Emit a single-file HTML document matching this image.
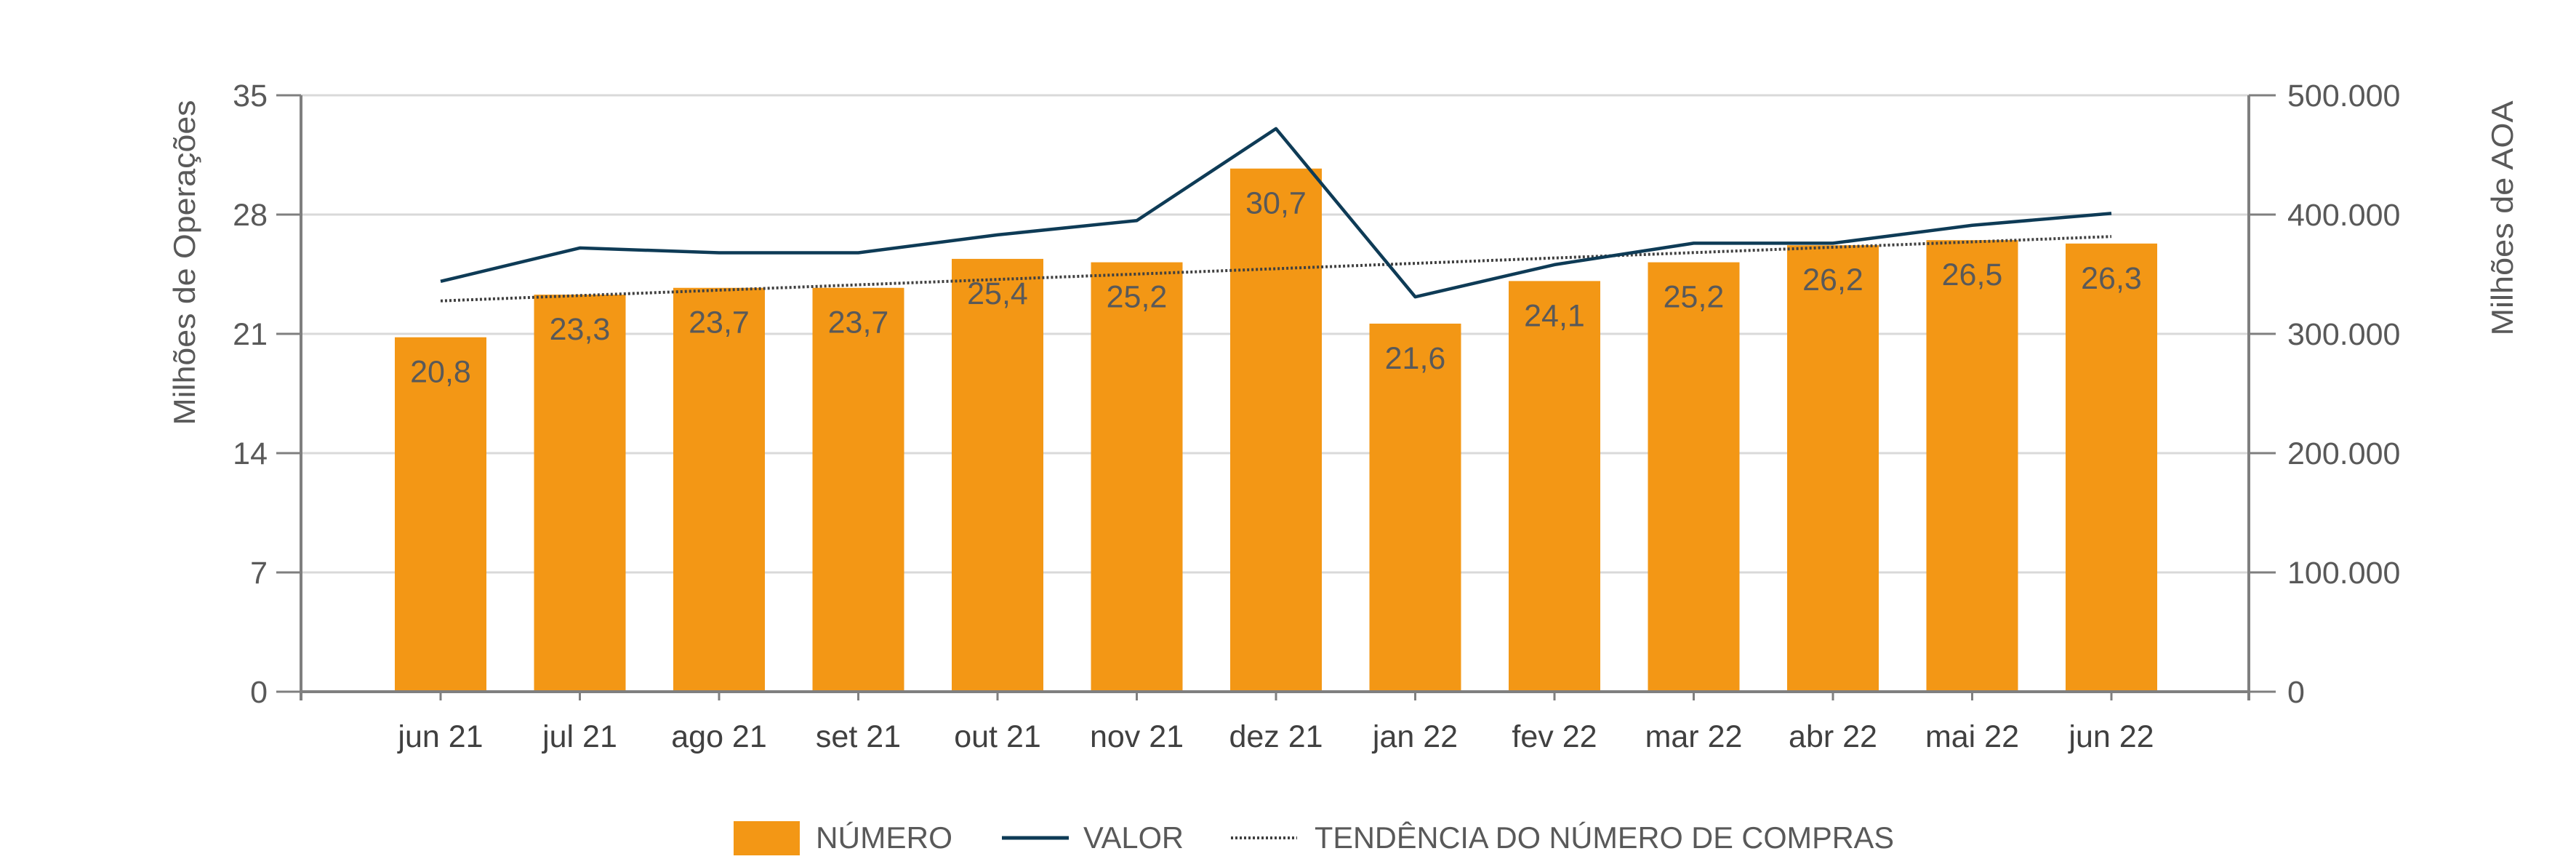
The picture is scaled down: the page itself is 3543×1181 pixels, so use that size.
<!DOCTYPE html>
<html><head><meta charset="utf-8"><style>
html,body{margin:0;padding:0;background:#fff;}
svg{display:block;font-family:"Liberation Sans",sans-serif;}
</style></head><body>
<svg id="chart" width="3543" height="1181" viewBox="0 0 3543 1181" xmlns="http://www.w3.org/2000/svg">
<g id="grid"></g>
<g id="bars"></g>
<g id="lines"></g>
<g id="axes"></g>
<text transform="translate(268,361) rotate(-90)" text-anchor="middle" font-size="42" fill="#595959" textLength="447" lengthAdjust="spacingAndGlyphs">Milhões de Operações</text>
<text transform="translate(3456,300) rotate(-90)" text-anchor="middle" font-size="42" fill="#595959" textLength="323" lengthAdjust="spacingAndGlyphs">Milhões de AOA</text>
<g>
<rect x="1009" y="1129" width="91" height="47" fill="#F39715"/>
<text x="1122" y="1166" font-size="42" fill="#595959" textLength="188" lengthAdjust="spacingAndGlyphs">NÚMERO</text>
<line x1="1378" y1="1152" x2="1470" y2="1152" stroke="#0E3B56" stroke-width="5"/>
<text x="1490" y="1166" font-size="42" fill="#595959" textLength="138" lengthAdjust="spacingAndGlyphs">VALOR</text>
<line x1="1693" y1="1152" x2="1784" y2="1152" stroke="#404040" stroke-width="4" stroke-dasharray="3,3"/>
<text x="1808" y="1166" font-size="42" fill="#595959" textLength="797" lengthAdjust="spacingAndGlyphs">TENDÊNCIA DO NÚMERO DE COMPRAS</text>
</g>
</svg>
<script>
const categories = ["jun 21","jul 21","ago 21","set 21","out 21","nov 21","dez 21","jan 22","fev 22","mar 22","abr 22","mai 22","jun 22"];
const numeroValues = [20.8,23.3,23.7,23.7,25.4,25.2,30.7,21.6,24.1,25.2,26.2,26.5,26.3];
const valorValues = [344000,372000,368000,368000,383000,395000,472000,331000,358000,376000,376000,391000,401000];
const leftTicks = [0,7,14,21,28,35];
const rightTicks = [0,100000,200000,300000,400000,500000];
const rightTickLabels = ["0","100.000","200.000","300.000","400.000","500.000"];

const NS="http://www.w3.org/2000/svg";
const X0=414, X1=3093, Y0=951, Y1=131;
const LMAX=35, RMAX=500000;
const yL=v=>Y0-(v/LMAX)*(Y0-Y1);
const yR=v=>Y0-(v/RMAX)*(Y0-Y1);
const step=191.5;
const xC=i=>606+i*step;
const BW=126;
function mk(tag,attrs,parent){const e=document.createElementNS(NS,tag);for(const k in attrs)e.setAttribute(k,attrs[k]);parent.appendChild(e);return e;}
const grid=document.getElementById('grid'),bars=document.getElementById('bars'),lines=document.getElementById('lines'),axes=document.getElementById('axes');

leftTicks.forEach((t,i)=>{
  if(t>0){const g=mk('line',{x1:X0,x2:X1,y1:yL(t),y2:yL(t),stroke:'#D9D9D9','stroke-width':3},grid);
  
  }
  const tk=mk('line',{x1:380,x2:X0,y1:yL(t),y2:yL(t),stroke:'#7F7F7F','stroke-width':3},axes);
  
  
  const lb=mk('text',{x:368,y:yL(t)+15,'text-anchor':'end','font-size':43,fill:'#595959'},axes);
  lb.textContent=t;
  
  
});
rightTicks.forEach((t,i)=>{
  const tk=mk('line',{x1:X1,x2:3130,y1:yR(t),y2:yR(t),stroke:'#7F7F7F','stroke-width':3},axes);
  
  
  const lb=mk('text',{x:3146,y:yR(t)+15,'font-size':43,fill:'#595959'},axes);
  lb.textContent=rightTickLabels[i];
  
  
});

numeroValues.forEach((v,i)=>{
  const r=mk('rect',{x:xC(i)-BW/2,y:yL(v),width:BW,height:Y0-yL(v),fill:'#F39715'},bars);
  
  
  const t=mk('text',{x:xC(i),y:yL(v)+62,'text-anchor':'middle','font-size':43,fill:'#595959'},bars);
  t.textContent=v.toFixed(1).replace('.',',');
  
  
});

// trend: least-squares fit of numeroValues
const n=numeroValues.length;
const mx=(n-1)/2, my=numeroValues.reduce((a,b)=>a+b,0)/n;
let sxy=0,sxx=0;numeroValues.forEach((v,i)=>{sxy+=(i-mx)*(v-my);sxx+=(i-mx)*(i-mx);});
const slope=sxy/sxx, icp=my-slope*mx;
const tr=mk('line',{x1:xC(0),y1:yL(icp),x2:xC(n-1),y2:yL(icp+slope*(n-1)),stroke:'#404040','stroke-width':4,'stroke-dasharray':'3,3'},lines);



const pl=mk('polyline',{points:valorValues.map((v,i)=>xC(i)+','+yR(v)).join(' '),fill:'none',stroke:'#0E3B56','stroke-width':4.5,'stroke-linejoin':'round'},lines);



const ax=mk('line',{x1:X0,x2:X1,y1:Y0,y2:Y0,stroke:'#7F7F7F','stroke-width':4},axes);


const la=mk('line',{x1:X0,x2:X0,y1:Y1,y2:Y0+12,stroke:'#7F7F7F','stroke-width':4},axes);


const ra=mk('line',{x1:X1,x2:X1,y1:Y1,y2:Y0+12,stroke:'#7F7F7F','stroke-width':4},axes);


categories.forEach((c,i)=>{
  const tk=mk('line',{x1:xC(i),x2:xC(i),y1:Y0,y2:Y0+12,stroke:'#7F7F7F','stroke-width':3},axes);
  
  
  const lb=mk('text',{x:xC(i),y:1027,'text-anchor':'middle','font-size':43,fill:'#404040'},axes);
  lb.textContent=c;
  
  
});
</script>
</body></html>
